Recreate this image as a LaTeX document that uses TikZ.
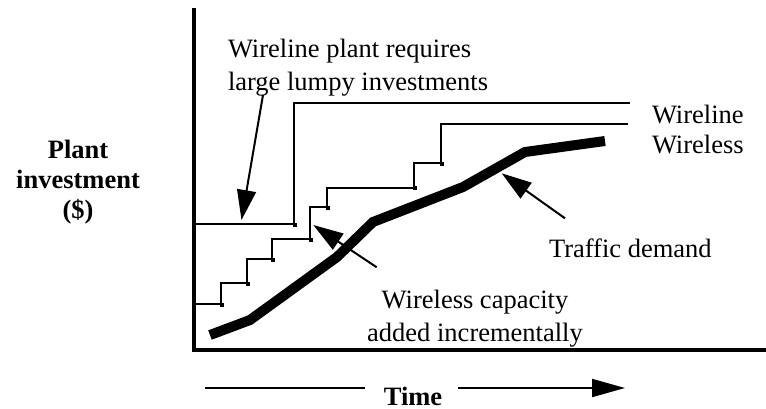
\documentclass[tikz,border=0pt]{standalone}
\usepackage{fontspec}
\setmainfont{Liberation Serif}
\usetikzlibrary{arrows.meta}
\begin{document}
\begin{tikzpicture}[x=0.5pt,y=-0.5pt,
  every node/.style={inner sep=0pt, outer sep=0pt},
  lbl/.style={font=\fontsize{13.25}{16.5}\selectfont},
  boldlbl/.style={font=\fontsize{13.25}{15}\selectfont\bfseries},
  axis/.style={line width=1.75pt, line join=miter},
  plant/.style={line width=1pt},
  demand/.style={line width=5pt, line join=miter, line cap=butt},
  callout/.style={line width=1pt, -{Triangle[length=15pt,width=9.5pt]}},
  timeline/.style={line width=1pt}
]
\useasboundingbox (0,0) rectangle (766,408);

% axes
\draw[axis] (194,8) -- (194,350) -- (766,350);

% wireline plant: one large step
\draw[plant] (194,224) -- (294,224) -- (294,103.3) -- (630,103.3);

% wireless plant: many small steps
\draw[plant] (194,304) -- (221,304) -- (221,283.3) -- (247.3,283.3)
  -- (247.3,259) -- (272.3,259) -- (272.3,239) -- (310,239)
  -- (310,207) -- (327,207) -- (327,187.5) -- (414,187.5)
  -- (414,163) -- (441,163) -- (441,124.3) -- (628,124.3);

% small marks at the foot of each riser
\foreach \px/\py in {294/224, 221/304, 247.3/283.3, 272.3/259, 310/239,
                     327/207, 414/187.5, 441/163}
  \fill (\px-1,\py-1.5) rectangle ++(4,4);

% traffic demand
\draw[demand] (210,335) -- (250,320) -- (337,257) -- (373,222)
  -- (463,187) -- (525,152) -- (605,141);

% labels (multi-line nodes are placed by the baseline of their last line)
\node[lbl, anchor=base west] (wline) at (652,123) {Wireline};
\node[lbl, anchor=base west] (wless) at (652,153) {Wireless};
\node[lbl, anchor=base west] (traffic) at (549,257) {Traffic demand};
\node[lbl, align=center, anchor=base] (wcap) at (475,341.7)
  {Wireless capacity\\added incrementally};
\node[lbl, align=left, anchor=base west] (lumpy) at (228,90)
  {Wireline plant requires\\large lumpy investments};
\node[boldlbl, align=center, anchor=base] (ylab) at (78,218)
  {Plant\\investment\\(\$)};
\node[boldlbl, anchor=base] (time) at (413,405) {Time};

% callout arrows
\coordinate (lumpyTail) at (263,95);
\coordinate (lumpyTip) at (241.5,220);
\coordinate (wcapTail) at (376.7,267.3);
\coordinate (wcapTip) at (313.3,225);
\coordinate (trafficTail) at (565,218.3);
\coordinate (trafficTip) at (501.7,173.3);
\draw[callout] (lumpyTail) -- (lumpyTip);
\draw[callout] (wcapTail) -- (wcapTip);
\draw[callout] (trafficTail) -- (trafficTip);

% time axis arrow
\coordinate (timeStart) at (205,388);
\coordinate (timeLeft) at (365,388);
\coordinate (timeRight) at (458,388);
\coordinate (timeEnd) at (625,388);
\draw[timeline] (timeStart) -- (timeLeft);
\draw[timeline, -{Triangle[length=16.5pt,width=9pt]}] (timeRight) -- (timeEnd);
\end{tikzpicture}
\end{document}
